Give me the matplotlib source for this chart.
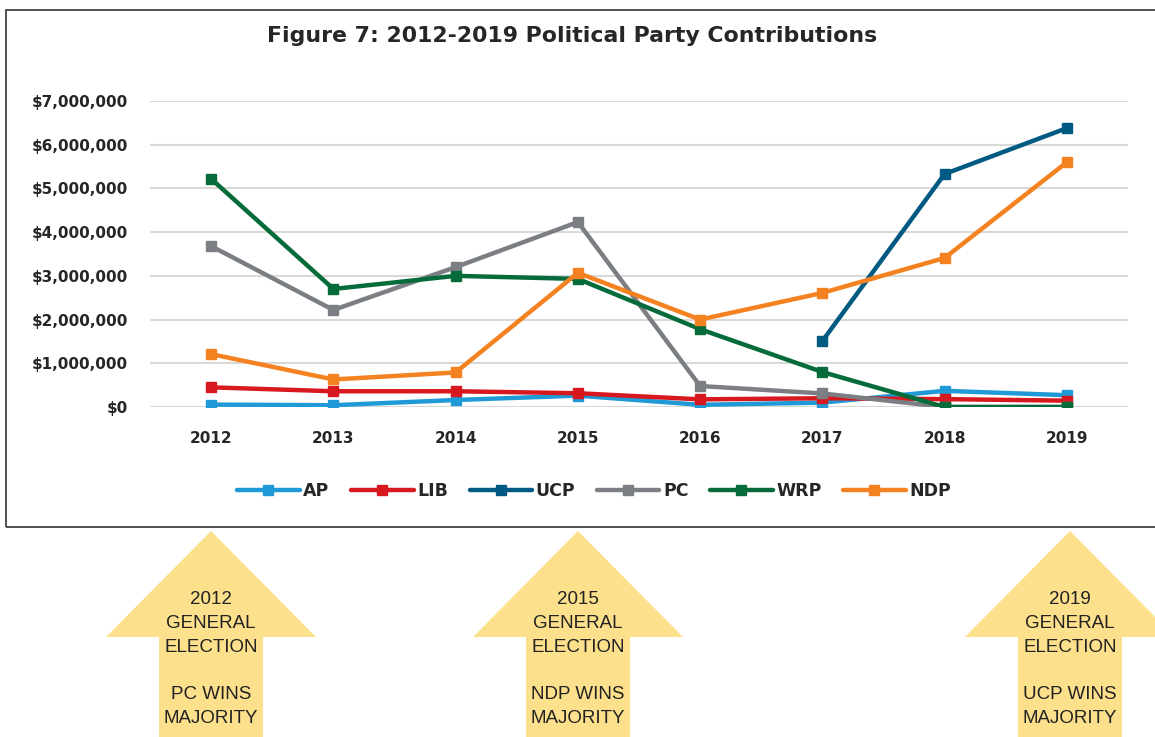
import numpy as np
import matplotlib.pyplot as plt
from matplotlib.patches import Polygon, Rectangle
from matplotlib.ticker import FuncFormatter

# Data
years = ["2012", "2013", "2014", "2015", "2016", "2017", "2018", "2019"]
ap = [55000, 40000, 160000, 260000, 50000, 100000, 370000, 270000]
lib = [450000, 360000, 360000, 315000, 175000, 200000, 180000, 145000]
ucp = [np.nan, np.nan, np.nan, np.nan, np.nan, 1510000, 5330000, 6380000]
pc = [3680000, 2220000, 3200000, 4230000, 480000, 310000, 0, 0]
wrp = [5220000, 2700000, 3000000, 2930000, 1780000, 800000, 0, 0]
ndp = [1210000, 630000, 790000, 3070000, 2000000, 2610000, 3410000, 5600000]

series = [("AP", ap, "#1F9AD6"), ("LIB", lib, "#D7191F"), ("UCP", ucp, "#005A82"),
          ("PC", pc, "#7B7F83"), ("WRP", wrp, "#066B3A"), ("NDP", ndp, "#F58220")]

arrow_labels = ["2012\nGENERAL\nELECTION\n\nPC WINS\nMAJORITY",
                "2015\nGENERAL\nELECTION\n\nNDP WINS\nMAJORITY",
                "2019\nGENERAL\nELECTION\n\nUCP WINS\nMAJORITY"]

W, H = 1155, 737
fig = plt.figure(figsize=(W / 100, H / 100), dpi=100)

def fx(px):
    return px / W

def fy(py):
    return 1 - py / H

# chart frame
fig.patches.append(Rectangle((fx(6), fy(527)), 1.0, fy(10) - fy(527), transform=fig.transFigure,
                             fill=False, edgecolor="#333333", lw=1.2))

ax = fig.add_axes([fx(150), fy(407), fx(978), 306 / H])
x = np.arange(len(years))
for name, vals, col in series:
    ax.plot(x, vals, color=col, lw=3.2, marker="s", markersize=7, label=name,
            solid_capstyle="round")

ax.set_xlim(-0.5, len(years) - 0.5)
ax.set_ylim(0, 7000000)
ax.set_yticks(np.arange(0, 7000001, 1000000))
ax.yaxis.set_major_formatter(FuncFormatter(lambda v, p: "${:,.0f}".format(v)))
ax.set_xticks(x)
ax.set_xticklabels(years)
ax.tick_params(length=0, labelsize=11, colors="#262626")
ax.tick_params(axis="y", pad=16)
ax.tick_params(axis="x", pad=17)
for lab in ax.get_xticklabels() + ax.get_yticklabels():
    lab.set_fontweight("bold")
ax.grid(axis="y", color="#D9D9D9", lw=1.5)
ax.set_axisbelow(True)
for s in ax.spines.values():
    s.set_visible(False)

fig.text(fx(572), fy(36), "Figure 7: 2012-2019 Political Party Contributions",
         ha="center", va="center", fontsize=15.8, fontweight="bold", color="#262626")

leg = fig.legend(loc="center", bbox_to_anchor=(fx(594), fy(491)), ncol=6, frameon=False,
                 handlelength=3.6, columnspacing=1.25, handletextpad=0.2,
                 prop={"weight": "bold", "size": 12.5})
for t in leg.get_texts():
    t.set_color("#262626")

# election arrows
for cx, label in zip([211, 578, 1070], arrow_labels):
    pts = [(cx, 531), (cx + 105, 637), (cx + 52, 637), (cx + 52, 740),
           (cx - 52, 740), (cx - 52, 637), (cx - 105, 637)]
    fig.patches.append(Polygon([(fx(a), fy(b)) for a, b in pts], closed=True,
                               transform=fig.transFigure, facecolor="#FDE08B", edgecolor="none"))
    fig.text(fx(cx), fy(659), label, ha="center", va="center", fontsize=13.5,
             family="Liberation Sans", color="#222222", linespacing=1.53)

fig.savefig("out.png", dpi=100)
